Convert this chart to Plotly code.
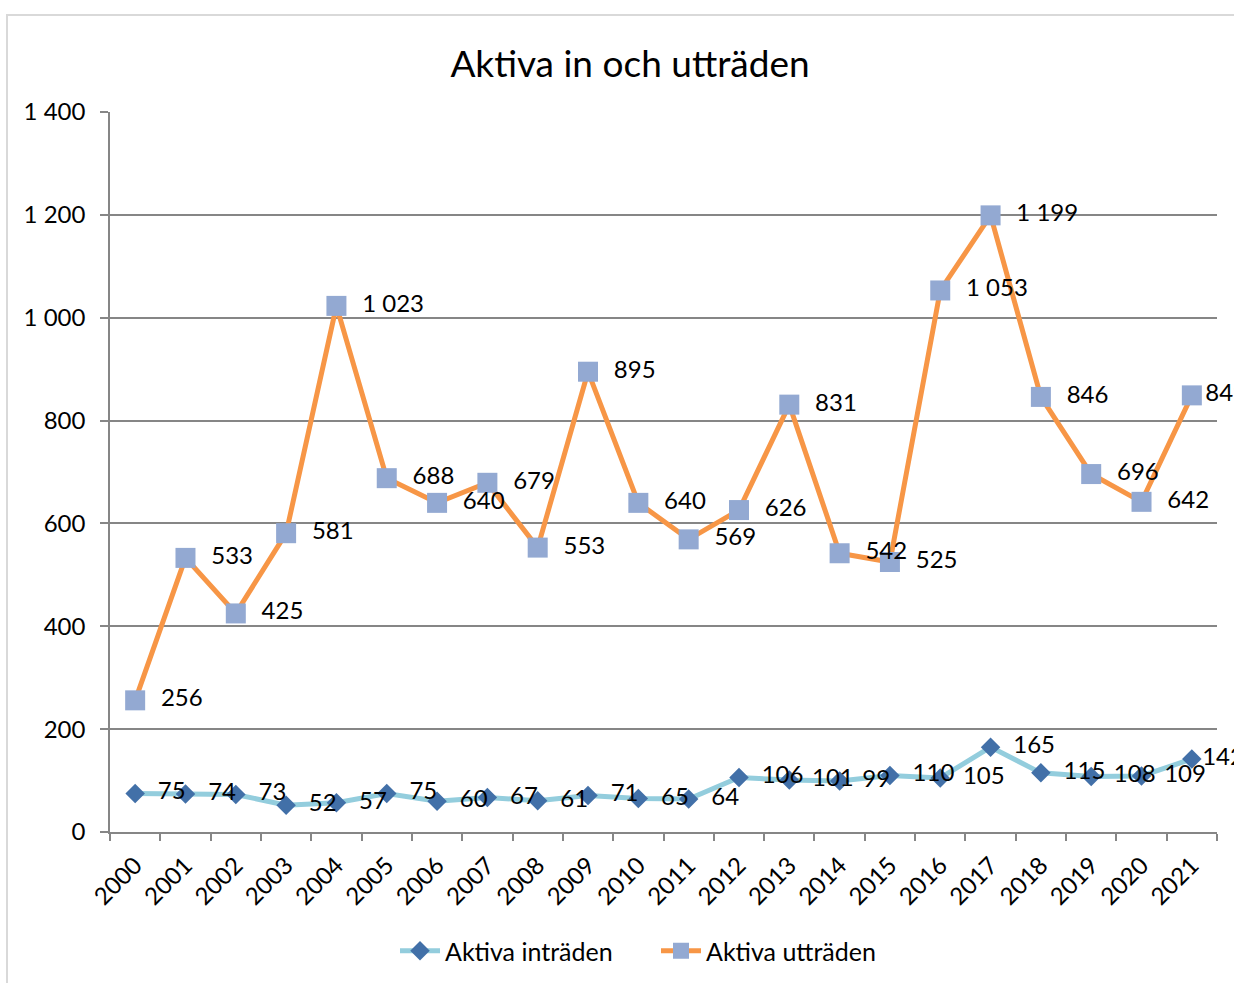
import plotly.graph_objects as go

years = [str(y) for y in range(2000, 2022)]
intraden = [75, 74, 73, 52, 57, 75, 60, 67, 61, 71, 65, 64, 106, 101, 99, 110, 105, 165, 115, 108, 109, 142]
uttraden = [256, 533, 425, 581, 1023, 688, 640, 679, 553, 895, 640, 569, 626, 831, 542, 525, 1053, 1199, 846, 696, 642, 849]
y_ticks = [0, 200, 400, 600, 800, 1000, 1200, 1400]

FONT = "Lato"
W, H = 1234, 983
L, R, T, B = 110, 1217, 112, 832

# Labels sit right of each point; the last one is squeezed against the edge (as in Excel)
label_tpl = ["  %{y:,}"] * (len(years) - 1) + ["%{y:,}"]

fig = go.Figure()
fig.add_trace(go.Scatter(
    x=years, y=intraden, name="Aktiva inträden", mode="lines+markers+text",
    line=dict(color="#93CDDD", width=5),
    marker=dict(symbol="diamond", size=15, color="#4270A8"),
    texttemplate=label_tpl, textposition="middle right",
    textfont=dict(family=FONT, size=24, color="#000000"), cliponaxis=False,
))
fig.add_trace(go.Scatter(
    x=years, y=uttraden, name="Aktiva utträden", mode="lines+markers+text",
    line=dict(color="#F79646", width=5),
    marker=dict(symbol="square", size=20, color="#93A9D2"),
    texttemplate=label_tpl, textposition="middle right",
    textfont=dict(family=FONT, size=24, color="#000000"), cliponaxis=False,
))

def px(x):
    return (x - L) / (R - L)

def py(y):
    return (B - y) / (B - T)

fig.update_layout(
    width=W, height=H,
    margin=dict(l=L, r=W - R, t=T, b=H - B, pad=0, autoexpand=False),
    paper_bgcolor="white", plot_bgcolor="white",
    separators=", ",
    font=dict(family=FONT, size=24, color="#000000"),
    title=dict(text="Aktiva in och utträden", x=630 / W, xanchor="center",
               y=1 - 64 / H, yanchor="middle", font=dict(family=FONT, size=37)),
    showlegend=True,
    legend=dict(orientation="h", xref="container", yref="container",
                x=395 / W, xanchor="left", y=1 - 951 / H, yanchor="middle",
                font=dict(family=FONT, size=25), bgcolor="rgba(0,0,0,0)",
                itemwidth=40, entrywidth=206, tracegroupgap=0),
    xaxis=dict(type="category", range=[-0.5, 21.5], tickson="boundaries", automargin=False,
               ticks="outside", ticklen=7, tickcolor="#868686", tickwidth=1.5,
               ticklabelstandoff=8,
               showline=True, linecolor="#868686", linewidth=1.5,
               showgrid=False, tickangle=-45, tickfont=dict(family=FONT, size=24)),
    yaxis=dict(range=[0, 1400], tickvals=y_ticks, tickformat=",", automargin=False,
               ticks="outside", ticklen=8, tickcolor="#868686", tickwidth=1.5,
               ticklabelstandoff=10,
               showline=True, linecolor="#868686", linewidth=1.5,
               showgrid=True, gridcolor="#868686", gridwidth=1.5, zeroline=False,
               tickfont=dict(family=FONT, size=24)),
    shapes=[dict(type="rect", xref="paper", yref="paper",
                 x0=px(7), x1=px(W + 40), y0=py(H + 40), y1=py(15),
                 line=dict(color="#D9D9D9", width=2), fillcolor="rgba(0,0,0,0)", layer="below")],
)

fig.write_html(
    "out.html",
    config={"displayModeBar": False},
    post_script="document.body.style.margin='0';document.body.style.overflow='hidden';",
)
